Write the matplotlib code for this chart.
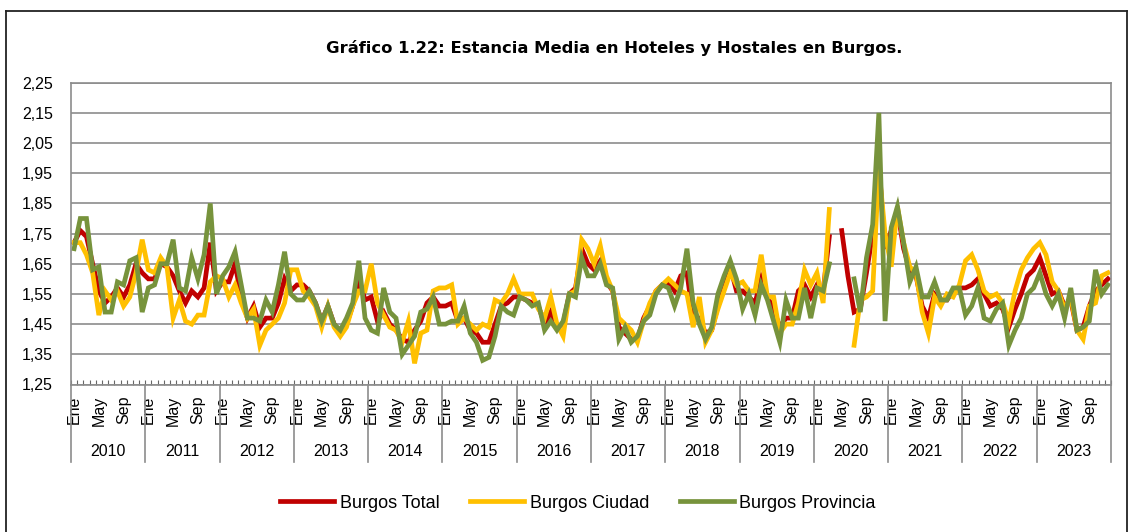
import numpy as np
import matplotlib
matplotlib.use("Agg")
import matplotlib.pyplot as plt
from matplotlib.lines import Line2D

# ── Data (monthly, Ene 2010 – Dic 2023) ───────────────────────────────────────
years = [str(y) for y in range(2010, 2024)]
month_labels = ["Ene", "May", "Sep"]
nan = np.nan

burgos_total = [
    1.72, 1.76, 1.74, 1.65, 1.56, 1.52, 1.54, 1.57, 1.54, 1.58, 1.65, 1.62,
    1.60, 1.60, 1.65, 1.64, 1.61, 1.56, 1.52, 1.56, 1.54, 1.57, 1.72, 1.56,
    1.59, 1.59, 1.65, 1.54, 1.47, 1.51, 1.44, 1.47, 1.47, 1.52, 1.60, 1.56,
    1.58, 1.58, 1.56, 1.52, 1.46, 1.51, 1.45, 1.42, 1.45, 1.51, 1.60, 1.53,
    1.54, 1.46, 1.49, 1.45, 1.43, 1.40, 1.39, 1.43, 1.46, 1.52, 1.54, 1.51,
    1.51, 1.52, 1.46, 1.47, 1.43, 1.42, 1.39, 1.39, 1.45, 1.51, 1.52, 1.54,
    1.54, 1.53, 1.52, 1.51, 1.45, 1.49, 1.44, 1.45, 1.55, 1.57, 1.70, 1.65,
    1.63, 1.66, 1.59, 1.56, 1.44, 1.42, 1.40, 1.40, 1.47, 1.51, 1.56, 1.58,
    1.59, 1.56, 1.61, 1.62, 1.47, 1.47, 1.42, 1.43, 1.51, 1.57, 1.64, 1.56,
    1.56, 1.54, 1.52, 1.60, 1.54, 1.50, 1.44, 1.47, 1.47, 1.56, 1.58, 1.54,
    1.58, 1.56, 1.74, nan, 1.76, 1.61, 1.49, 1.50, 1.62, 1.75, 1.98, 1.70,
    1.76, 1.83, 1.70, 1.63, 1.61, 1.51, 1.47, 1.55, 1.53, 1.53, 1.56, 1.57,
    1.57, 1.58, 1.60, 1.55, 1.51, 1.52, 1.50, 1.44, 1.50, 1.55, 1.61, 1.63,
    1.67, 1.61, 1.55, 1.56, 1.51, 1.53, 1.43, 1.44, 1.51, 1.56, 1.58, 1.60,
]

burgos_ciudad = [
    1.72, 1.72, 1.68, 1.62, 1.48, 1.56, 1.53, 1.56, 1.51, 1.54, 1.62, 1.73,
    1.63, 1.62, 1.67, 1.64, 1.47, 1.53, 1.46, 1.45, 1.48, 1.48, 1.59, 1.61,
    1.60, 1.54, 1.58, 1.52, 1.47, 1.50, 1.38, 1.43, 1.45, 1.47, 1.52, 1.63,
    1.63, 1.56, 1.54, 1.51, 1.44, 1.51, 1.44, 1.41, 1.44, 1.51, 1.56, 1.56,
    1.65, 1.52, 1.48, 1.44, 1.43, 1.39, 1.46, 1.32, 1.42, 1.43, 1.56, 1.57,
    1.57, 1.58, 1.45, 1.47, 1.45, 1.43, 1.45, 1.44, 1.53, 1.52, 1.55, 1.60,
    1.55, 1.55, 1.55, 1.50, 1.47, 1.54, 1.45, 1.41, 1.55, 1.56, 1.73, 1.70,
    1.65, 1.71, 1.61, 1.56, 1.47, 1.45, 1.43, 1.39, 1.46, 1.52, 1.56, 1.58,
    1.60, 1.58, 1.56, 1.55, 1.44, 1.54, 1.39, 1.43, 1.50, 1.56, 1.62, 1.58,
    1.59, 1.56, 1.56, 1.68, 1.54, 1.54, 1.42, 1.45, 1.45, 1.52, 1.63, 1.58,
    1.62, 1.52, 1.83, nan, nan, nan, 1.38, 1.53, 1.54, 1.56, 1.97, 1.75,
    1.64, 1.84, 1.72, 1.64, 1.62, 1.49, 1.42, 1.54, 1.51, 1.55, 1.54, 1.58,
    1.66, 1.68, 1.63, 1.56, 1.54, 1.55, 1.52, 1.46, 1.56, 1.63, 1.67, 1.70,
    1.72, 1.68, 1.59, 1.56, 1.50, 1.54, 1.43, 1.40, 1.51, 1.52, 1.61, 1.62,
]

burgos_provincia = [
    1.70, 1.80, 1.80, 1.63, 1.64, 1.49, 1.49, 1.59, 1.58, 1.66, 1.67, 1.49,
    1.57, 1.58, 1.65, 1.65, 1.73, 1.57, 1.56, 1.67, 1.60, 1.68, 1.85, 1.55,
    1.61, 1.64, 1.69, 1.58, 1.47, 1.47, 1.46, 1.53, 1.49, 1.58, 1.69, 1.55,
    1.53, 1.53, 1.56, 1.52, 1.46, 1.51, 1.45, 1.43, 1.47, 1.52, 1.66, 1.47,
    1.43, 1.42, 1.57, 1.49, 1.47, 1.35, 1.38, 1.41, 1.49, 1.50, 1.54, 1.45,
    1.45, 1.46, 1.46, 1.51, 1.42, 1.39, 1.33, 1.34, 1.41, 1.51, 1.49, 1.48,
    1.54, 1.53, 1.51, 1.52, 1.43, 1.46, 1.43, 1.46, 1.55, 1.54, 1.67, 1.61,
    1.61, 1.65, 1.58, 1.57, 1.40, 1.44, 1.39, 1.41, 1.46, 1.48, 1.55, 1.58,
    1.57, 1.51, 1.57, 1.70, 1.52, 1.45, 1.40, 1.44, 1.55, 1.61, 1.66, 1.60,
    1.50, 1.55, 1.48, 1.58, 1.53, 1.46, 1.39, 1.53, 1.47, 1.47, 1.57, 1.47,
    1.57, 1.56, 1.65, nan, nan, nan, 1.60, 1.49, 1.67, 1.78, 2.15, 1.46,
    1.77, 1.84, 1.72, 1.59, 1.64, 1.54, 1.54, 1.59, 1.53, 1.53, 1.57, 1.57,
    1.48, 1.51, 1.57, 1.47, 1.46, 1.50, 1.52, 1.38, 1.43, 1.47, 1.55, 1.57,
    1.62, 1.55, 1.51, 1.55, 1.47, 1.57, 1.43, 1.44, 1.46, 1.63, 1.55, 1.58,
]

series = [
    ("Burgos Total", burgos_total, "#C00000"),
    ("Burgos Ciudad", burgos_ciudad, "#FFC000"),
    ("Burgos Provincia", burgos_provincia, "#77933C"),
]

# ── Figure ────────────────────────────────────────────────────────────────────
W, H = 1131, 532
fig = plt.figure(figsize=(W / 100, H / 100), dpi=100)
ax = fig.add_axes([71 / W, 1 - 384.5 / H, 1040 / W, 301.8 / H])

x = np.arange(len(burgos_total))
for label, values, color in series:
    ax.plot(x, values, color=color, lw=3.4, label=label, solid_joinstyle="miter")

grid_c = "#8C8C8C"
ax.set_ylim(1.25, 2.25)
ax.set_xlim(-0.5, len(x) - 0.5)
yticks = np.round(np.arange(1.25, 2.26, 0.10), 2)
ax.set_yticks(yticks)
ax.set_yticklabels([f"{v:.2f}".replace(".", ",") for v in yticks],
                   fontfamily="Liberation Sans", fontsize=11.5)
ax.yaxis.grid(True, color=grid_c, lw=1.2)
ax.set_axisbelow(True)
ax.tick_params(axis="y", length=0, pad=13)

# month labels (Ene / May / Sep) as rotated tick labels
n_years = len(years)
pos = [12 * k + m for k in range(n_years) for m in (0, 4, 8)]
ax.set_xticks(pos)
ax.set_xticklabels(month_labels * n_years, rotation=90,
                   fontfamily="Liberation Sans", fontsize=11.5)
ax.tick_params(axis="x", which="major", length=0, pad=8)
ax.set_xticks(np.arange(-0.5, len(x), 1), minor=True)
ax.tick_params(axis="x", which="minor", direction="in", length=3.5,
               color="#666666", width=0.8)

for s in ax.spines.values():
    s.set_color(grid_c)
    s.set_linewidth(1.2)

# year separators and labels below the axis
trans = ax.get_xaxis_transform()
for k in range(n_years + 1):
    ax.add_line(Line2D([12 * k - 0.5] * 2, [0, -0.257], transform=trans,
                       color=grid_c, lw=1.2, clip_on=False))
for k, yr in enumerate(years):
    ax.text(12 * k + 5.5, -0.222, yr, transform=trans, ha="center", va="center",
            fontfamily="Liberation Sans", fontsize=11.5)

# title
fig.text(614 / W, 1 - 48 / H,
         "Gráfico 1.22: Estancia Media en Hoteles y Hostales en Burgos.",
         ha="center", va="center", fontsize=11.8, fontweight="bold",
         fontfamily="DejaVu Sans")

# legend
fig.legend(loc="center", bbox_to_anchor=(578 / W, 1 - 503 / H), ncol=3,
           frameon=False, handlelength=3.0, handletextpad=0.3,
           columnspacing=1.7, prop={"family": "Liberation Sans", "size": 13})

# outer frame
frame_kw = dict(transform=fig.transFigure, color="#222222", lw=1.3)
fig.add_artist(Line2D([6 / W, 1127 / W], [1 - 11 / H] * 2, **frame_kw))
fig.add_artist(Line2D([6 / W] * 2, [1 - 11 / H, 0], **frame_kw))
fig.add_artist(Line2D([1127 / W] * 2, [1 - 11 / H, 0], **frame_kw))

fig.savefig("out.png", dpi=100)
